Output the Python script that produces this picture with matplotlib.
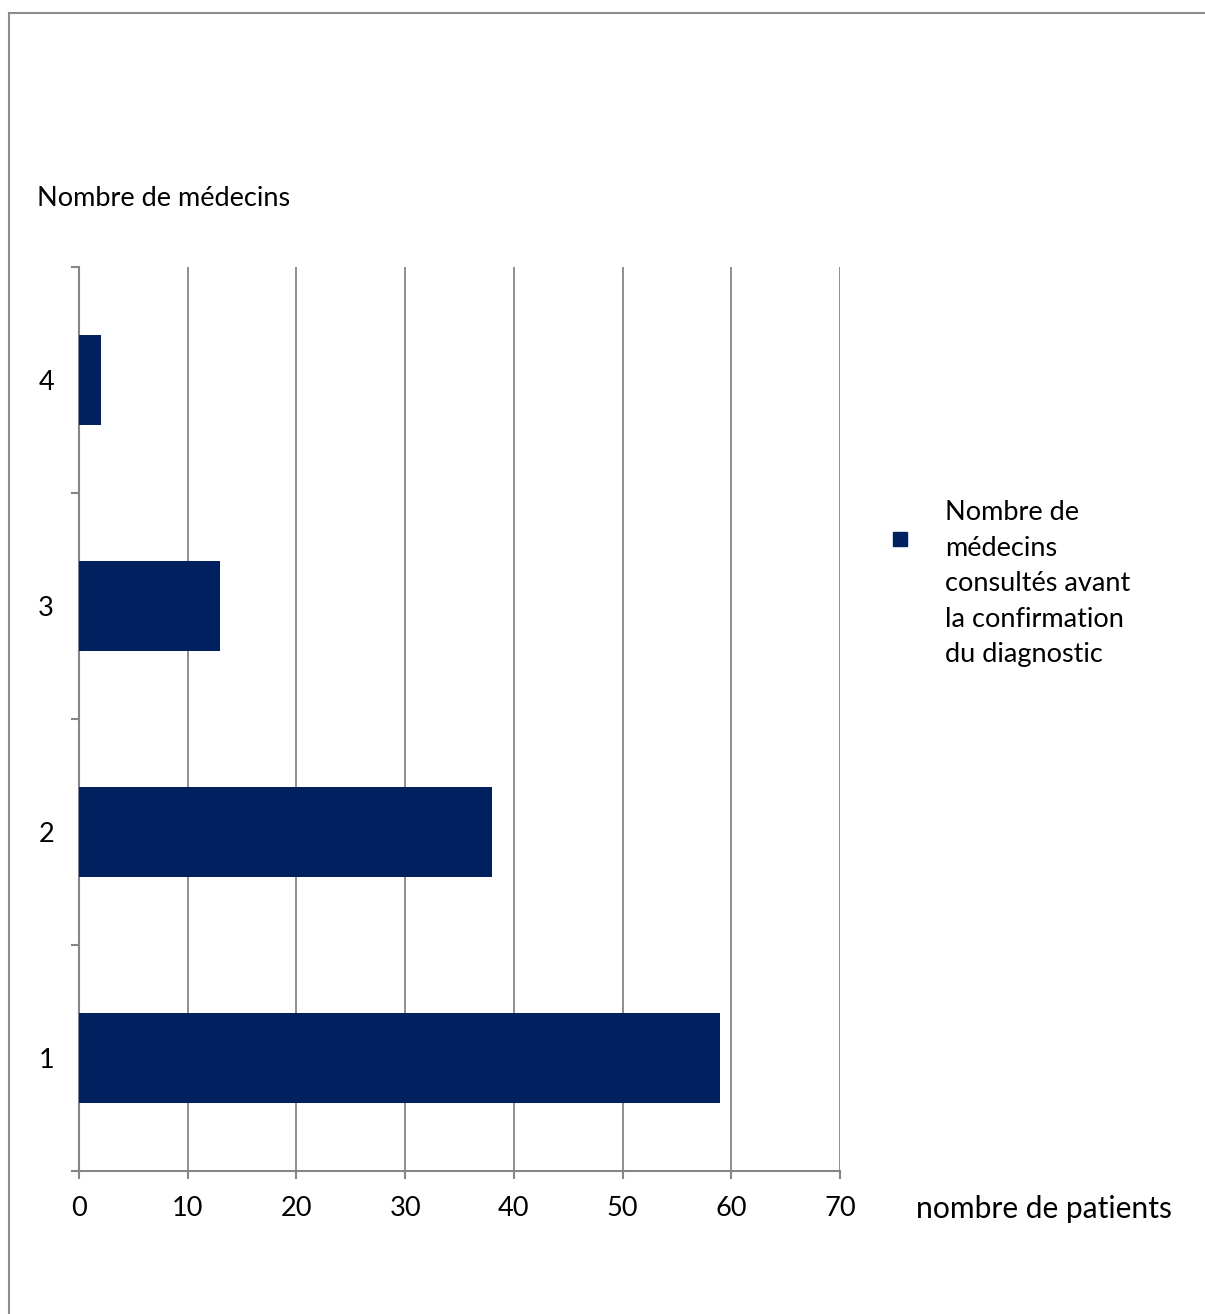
import matplotlib

matplotlib.use("Agg")
import matplotlib.pyplot as plt
from matplotlib.lines import Line2D
from matplotlib.patches import Rectangle

plt.rcParams["font.family"] = ["Lato", "DejaVu Sans"]

# Data
categories = [1, 2, 3, 4]
patients = [59, 38, 13, 2]
x_ticks = [0, 10, 20, 30, 40, 50, 60, 70]
series_label = "Nombre de\nmédecins\nconsultés avant\nla confirmation\ndu diagnostic"

BAR_COLOR = "#002060"
GRID_COLOR = "#868686"
W, H = 1205, 1314
FS = 19.5


def plot_bars():
    fig = plt.figure(figsize=(W / 100, H / 100), dpi=100)
    ax = fig.add_axes([79 / W, 1 - 1171 / H, (840 - 79) / W, (1171 - 267) / H])

    ax.barh(categories, patients, height=0.4, color=BAR_COLOR, zorder=3)

    ax.set_xlim(x_ticks[0], x_ticks[-1])
    ax.set_ylim(0.5, len(categories) + 0.5)
    ax.set_xticks(x_ticks)
    ax.tick_params(axis="x", length=6, width=1.5, color=GRID_COLOR,
                   labelsize=FS, pad=12)

    # category boundaries get tick marks, centers get the labels
    ax.set_yticks([c - 0.5 for c in categories] + [categories[-1] + 0.5])
    ax.set_yticklabels([])
    ax.set_yticks(categories, minor=True)
    ax.set_yticklabels([str(c) for c in categories], minor=True)
    ax.tick_params(axis="y", which="major", length=6, width=1.5, color=GRID_COLOR)
    ax.tick_params(axis="y", which="minor", length=0, labelsize=FS, pad=18)

    ax.grid(axis="x", color=GRID_COLOR, linewidth=1.3, zorder=0)
    for side in ("top", "right"):
        ax.spines[side].set_visible(False)
    for side in ("left", "bottom"):
        ax.spines[side].set_color(GRID_COLOR)
        ax.spines[side].set_linewidth(1.5)

    fig.text(37 / W, 1 - 198 / H, "Nombre de médecins", fontsize=FS,
             ha="left", va="center")
    fig.text(916 / W, 1 - 1209 / H, "nombre de patients", fontsize=21.6,
             ha="left", va="center")

    # legend, laid out like the spreadsheet original
    sq = 14
    fig.patches.append(Rectangle(((900 - sq / 2) / W, 1 - (539 + sq / 2) / H),
                                 sq / W, sq / H, transform=fig.transFigure,
                                 color=BAR_COLOR))
    fig.text(945 / W, 1 - 500 / H, series_label, fontsize=FS, ha="left",
             va="top", linespacing=1.53)

    # outer frame (left and top edges visible)
    fig.lines.append(Line2D([9 / W, 9 / W], [0, 1 - 13 / H],
                            transform=fig.transFigure, color="#8c8c8c", lw=1.5))
    fig.lines.append(Line2D([9 / W, 1], [1 - 13 / H, 1 - 13 / H],
                            transform=fig.transFigure, color="#8c8c8c", lw=1.5))

    fig.savefig("out.png", dpi=100)


if __name__ == "__main__":
    plot_bars()
